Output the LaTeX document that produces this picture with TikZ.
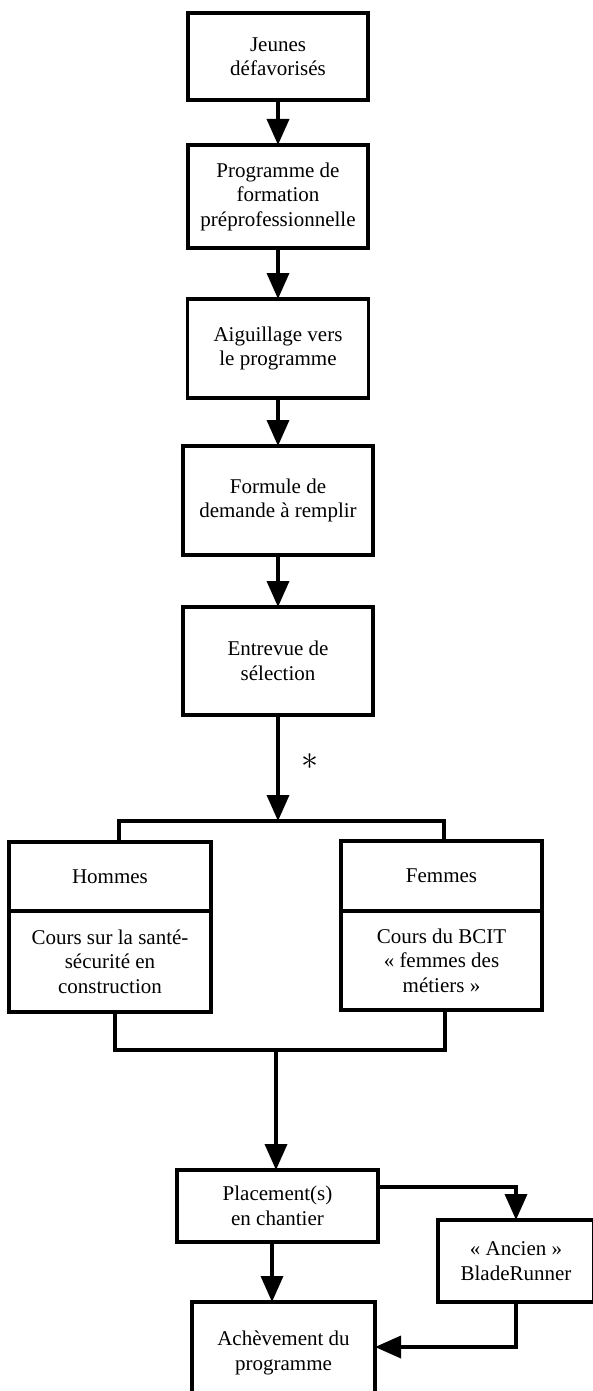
\documentclass[tikz,border=0pt]{standalone}
\usepackage{fontspec}
\setmainfont{Liberation Serif}
\usetikzlibrary{arrows.meta}
\begin{document}
\begin{tikzpicture}[x=1pt,y=-1pt,
  box/.style={draw,line width=3.6pt,inner sep=0pt,outer sep=0pt,align=center,
    font=\fontsize{21}{24.5}\selectfont},
  conn/.style={line width=3.6pt},
  arr/.style={line width=3.6pt,-{Triangle[length=26pt,width=22pt]}}]
\clip (0,0) rectangle (593,1391);
\useasboundingbox (0,0) rectangle (593,1391);
% main column
\node[box,minimum width=180,minimum height=87] (b1) at (278,56.5) {Jeunes\\défavorisés};
\node[box,minimum width=180,minimum height=103] (b2) at (278,196.5) {Programme de\\formation\\préprofessionnelle};
\node[box,minimum width=181,minimum height=99] (b3) at (278,348.5) {Aiguillage vers\\le programme};
\node[box,minimum width=190,minimum height=109] (b4) at (278,500.5) {Formule de\\demande à remplir};
\node[box,minimum width=190,minimum height=108] (b5) at (278,661) {Entrevue de\\sélection};
% split boxes
\node[box,minimum width=202,minimum height=69] (hA) at (110,876.5) {Hommes};
\node[box,minimum width=202,minimum height=101] (hB) at (110,961.5) {Cours sur la santé-\\sécurité en\\construction};
\node[box,minimum width=201,minimum height=70] (fA) at (441.5,876) {Femmes};
\node[box,minimum width=201,minimum height=99] (fB) at (441.5,960.5) {Cours du BCIT\\« femmes des\\métiers »};
% bottom
\node[box,minimum width=201,minimum height=72] (pl) at (277.5,1206) {Placement(s)\\en chantier};
\node[box,minimum width=156,minimum height=82] (bl) at (516,1261) {« Ancien »\\BladeRunner};
\node[box,minimum width=183,minimum height=102] (ach) at (283.5,1353) {Achèvement du\\programme};
% asterisk
\node[inner sep=0pt] (ast) at (310,762) {\scalebox{3.4}{$\ast$}};
% coordinates
\coordinate (split) at (278,821);
\coordinate (tl) at (119,821);
\coordinate (tr) at (444,821);
\coordinate (bll) at (115,1050);
\coordinate (blr) at (445,1050);
\coordinate (bm) at (276,1050);
\coordinate (cx) at (272,0);
\coordinate (ry) at (0,1187);
\coordinate (ly) at (0,1347);
% connectors
\draw[arr] (b1) -- (b2);
\draw[arr] (b2) -- (b3);
\draw[arr] (b3) -- (b4);
\draw[arr] (b4) -- (b5);
\draw[arr] (b5) -- (split);
\draw[conn,line cap=rect] (tl) -- (tr);
\draw[conn] (tl) -- (tl |- hA.north);
\draw[conn] (tr) -- (tr |- fA.north);
\draw[conn,line cap=rect] (bll |- hB.south) -- (bll) -- (blr) -- (blr |- fB.south);
\draw[arr] (bm) -- (bm |- pl.north);
\draw[arr] (pl.south -| cx) -- (ach.north -| cx);
\draw[arr] (pl.east |- ry) -| (bl.north);
\draw[arr] (bl.south) |- (ach.east |- ly);
\end{tikzpicture}
\end{document}
